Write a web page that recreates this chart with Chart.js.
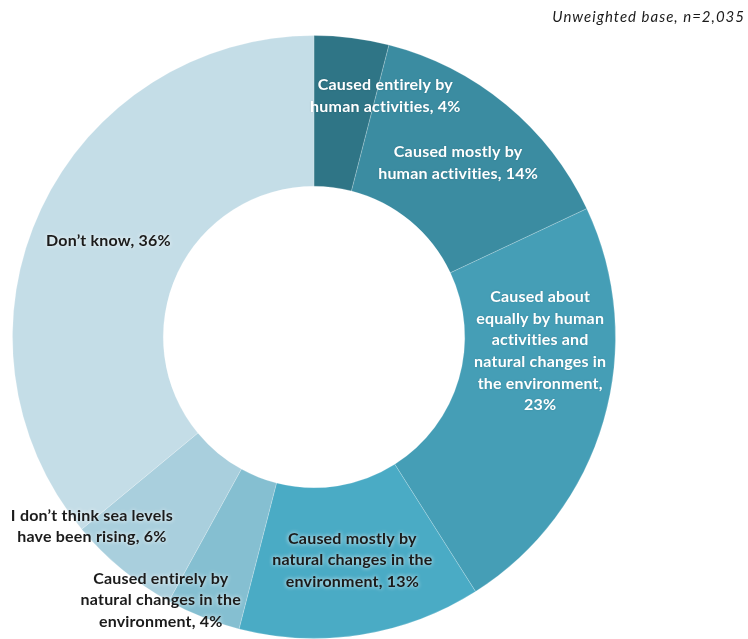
<!DOCTYPE html>
<html>
<head>
<meta charset="utf-8">
<script src="https://cdn.jsdelivr.net/npm/chart.js@4.4.1/dist/chart.umd.min.js"></script>
<style>
  html, body { margin: 0; padding: 0; background: #ffffff; }
  #wrap { position: relative; width: 748px; height: 639px; }
</style>
</head>
<body>
<div id="wrap"><canvas id="chart" width="748" height="639"></canvas></div>
<script>
// Views on the cause of rising sea levels (% of respondents)
const categories = [
  ["Caused entirely by", "human activities"],
  ["Caused mostly by", "human activities"],
  ["Caused about", "equally by human", "activities and", "natural changes in", "the environment,"],
  ["Caused mostly by", "natural changes in the", "environment"],
  ["Caused entirely by", "natural changes in the", "environment"],
  ["I don\u2019t think sea levels", "have been rising"],
  ["Don\u2019t know"]
];
const shares = [4, 14, 23, 13, 4, 6, 36];
const baseNote = "Unweighted base, n=2,035";

const sliceColors = ["#2f7586", "#3b8ca1", "#459eb6", "#4aabc5", "#85bfd1", "#a9cfdd", "#c4dde7"];
const textColors = ["#ffffff", "#ffffff", "#ffffff", "#1b1b1b", "#1b1b1b", "#1b1b1b", "#1b1b1b"];
// label nudges (px) from each slice's centroid
const labelNudge = [[43, -17], [0, 0], [9, -49], [3, 0], [-70, 53], [-78, 15], [-1, 0]];

// Build label lines: value goes on the last line (or its own line for long labels)
function labelLines(i) {
  const lines = categories[i].slice();
  const last = lines.length - 1;
  if (i === 2) {
    lines.push(shares[i] + "%");
  } else {
    lines[last] = lines[last] + ", " + shares[i] + "%";
  }
  return lines;
}

const sliceLabels = {
  id: "sliceLabels",
  afterDatasetsDraw(chart) {
    const ctx = chart.ctx;
    const arcs = chart.getDatasetMeta(0).data;
    const lh = 21.6;
    ctx.save();
    ctx.font = "bold 16px Lato, 'Open Sans', sans-serif";
    ctx.letterSpacing = "0.2px";
    ctx.textAlign = "center";
    ctx.textBaseline = "middle";
    arcs.forEach((arc, i) => {
      const p = arc.tooltipPosition();
      const lines = labelLines(i);
      const cx = p.x + labelNudge[i][0];
      const cy = p.y + labelNudge[i][1];
      const y0 = cy - (lines.length - 1) * lh / 2;
      lines.forEach((t, k) => {
        if (textColors[i] !== "#ffffff") {
          ctx.shadowColor = "rgba(255,255,255,0.95)";
          ctx.shadowBlur = 4;
        } else {
          ctx.shadowColor = "rgba(0,0,0,0.15)";
          ctx.shadowBlur = 2;
        }
        ctx.fillStyle = textColors[i];
        ctx.fillText(t, cx, y0 + k * lh);
      });
    });
    ctx.shadowBlur = 0;
    ctx.font = "italic 15px Lato, 'Open Sans', sans-serif";
    ctx.letterSpacing = "1px";
    ctx.fillStyle = "#1b1b1b";
    ctx.textAlign = "right";
    ctx.fillText(baseNote, 745, 17);
    ctx.restore();
  }
};

new Chart(document.getElementById("chart"), {
  type: "doughnut",
  data: {
    labels: categories.map(c => c.join(" ")),
    datasets: [{
      data: shares,
      backgroundColor: sliceColors,
      borderColor: "rgba(255,255,255,0.2)",
      borderWidth: 1,
      hoverOffset: 0
    }]
  },
  options: {
    responsive: false,
    animation: false,
    cutout: "50%",
    rotation: 0,
    layout: { padding: { left: 12, right: 132, top: 35, bottom: 0 } },
    plugins: {
      legend: { display: false },
      tooltip: { enabled: false }
    }
  },
  plugins: [sliceLabels]
});
</script>
</body>
</html>
